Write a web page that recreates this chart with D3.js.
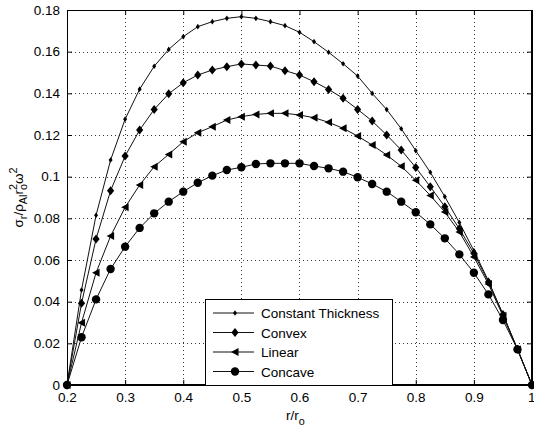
<!DOCTYPE html>
<html><head><meta charset="utf-8">
<script src="https://cdn.jsdelivr.net/npm/d3@7"></script>
<style>html,body{margin:0;padding:0;background:#fff;} svg{display:block;font-family:Arial,"Liberation Sans",sans-serif;}</style>
</head><body>
<script>
const xValues = [0.2,0.225,0.25,0.275,0.3,0.325,0.35,0.375,0.4,0.425,0.45,0.475,0.5,0.525,0.55,0.575,0.6,0.625,0.65,0.675,0.7,0.725,0.75,0.775,0.8,0.825,0.85,0.875,0.9,0.925,0.95,0.975,1.0];
const constantThickness = [0,0.0456,0.0815,0.108,0.1276,0.142,0.153,0.1611,0.1672,0.172,0.1744,0.176,0.1768,0.176,0.1744,0.1725,0.1693,0.1648,0.1597,0.1542,0.1483,0.14,0.1322,0.123,0.1125,0.1021,0.0904,0.078,0.0645,0.05,0.034,0.0172,0];
const convex = [0,0.0392,0.0701,0.0933,0.1099,0.1224,0.1323,0.1398,0.1451,0.1488,0.1512,0.1528,0.1541,0.1536,0.1531,0.1509,0.1488,0.1456,0.1419,0.1376,0.1323,0.1267,0.12,0.1128,0.1044,0.0952,0.0856,0.075,0.0632,0.0495,0.0338,0.0172,0];
const linear = [0,0.0299,0.0539,0.0715,0.0853,0.096,0.1048,0.1107,0.1168,0.1211,0.124,0.1272,0.1288,0.1299,0.1304,0.1304,0.1296,0.1283,0.1261,0.1232,0.1195,0.1152,0.1104,0.105,0.0983,0.091,0.083,0.0735,0.0615,0.0485,0.0332,0.0171,0];
const concave = [0,0.0229,0.0411,0.0557,0.0664,0.0754,0.0824,0.088,0.0928,0.0971,0.1005,0.1032,0.1045,0.1061,0.1064,0.1064,0.1064,0.1051,0.104,0.1024,0.0997,0.0965,0.0928,0.088,0.0829,0.0771,0.0704,0.0627,0.0539,0.0435,0.0312,0.0171,0];
const seriesNames = ["Constant Thickness","Convex","Linear","Concave"];
const markerTypes = ["dot","diamond","triangle","circle"];
const xTicks = [0.2,0.3,0.4,0.5,0.6,0.7,0.8,0.9,1];
const xTickLabels = ["0.2","0.3","0.4","0.5","0.6","0.7","0.8","0.9","1"];
const yTicks = [0,0.02,0.04,0.06,0.08,0.1,0.12,0.14,0.16,0.18];
const yTickLabels = ["0","0.02","0.04","0.06","0.08","0.1","0.12","0.14","0.16","0.18"];

const W = 534, H = 434;
const m = {left:67, top:10, right:2, bottom:49};
const svg = d3.select("body").append("svg").attr("width",W).attr("height",H);
const x = d3.scaleLinear().domain([0.2,1]).range([m.left, W-m.right]);
const y = d3.scaleLinear().domain([0,0.18]).range([H-m.bottom, m.top]);
const x0 = x.range()[0], x1 = x.range()[1], y0 = y.range()[0], y1 = y.range()[1];

svg.append("rect").attr("x",x0).attr("y",y1).attr("width",x1-x0).attr("height",y0-y1).attr("fill","#fff");

// grid
const grid = svg.append("g").attr("stroke","#333").attr("stroke-width",1).attr("stroke-dasharray","1,3");
grid.selectAll(".gx").data(xTicks.slice(1,-1)).enter().append("line")
  .attr("x1",d=>Math.round(x(d))+0.5).attr("x2",d=>Math.round(x(d))+0.5).attr("y1",y1).attr("y2",y0);
grid.selectAll(".gy").data(yTicks.slice(1,-1)).enter().append("line")
  .attr("y1",d=>Math.round(y(d))+0.5).attr("y2",d=>Math.round(y(d))+0.5).attr("x1",x0).attr("x2",x1);

// axes
const fs = 13.5;
const xAxisB = d3.axisBottom(x).tickValues(xTicks).tickSizeInner(-5).tickSizeOuter(0).tickPadding(7).tickFormat((d,i)=>xTickLabels[i]);
const gxB = svg.append("g").attr("transform",`translate(0,${y0})`).call(xAxisB);
const xAxisT = d3.axisTop(x).tickValues(xTicks).tickSizeInner(-5).tickSizeOuter(0).tickFormat("");
svg.append("g").attr("transform",`translate(0,${y1})`).call(xAxisT);
const yAxisL = d3.axisLeft(y).tickValues(yTicks).tickSizeInner(-5).tickSizeOuter(0).tickPadding(7).tickFormat((d,i)=>yTickLabels[i]);
svg.append("g").attr("transform",`translate(${x0},0)`).call(yAxisL);
const yAxisR = d3.axisRight(y).tickValues(yTicks).tickSizeInner(-5).tickSizeOuter(0).tickFormat("");
svg.append("g").attr("transform",`translate(${x1},0)`).call(yAxisR);
svg.selectAll(".tick text").attr("font-size",fs).attr("font-family","Arial, 'Liberation Sans', sans-serif").attr("fill","#000");
// keep the last x tick label inside the window
gxB.selectAll(".tick text").filter((d,i)=>i===xTicks.length-1).attr("text-anchor","end").attr("dx",3);
svg.selectAll(".domain").attr("stroke","#000");
svg.selectAll(".tick line").attr("stroke","#000");
svg.append("rect").attr("x",x0+0.5).attr("y",y1+0.5).attr("width",x1-x0-1).attr("height",y0-y1-1).attr("fill","none").attr("stroke","#000");

// marker drawing
function drawMarker(g, type, cx, cy){
  if(type==="dot"){
    g.append("path").attr("d",`M${cx},${cy-2.8}L${cx+2},${cy}L${cx},${cy+2.8}L${cx-2},${cy}Z`).attr("fill","#000");
  } else if(type==="diamond"){
    g.append("path").attr("d",`M${cx},${cy-4.5}L${cx+3.6},${cy}L${cx},${cy+4.5}L${cx-3.6},${cy}Z`).attr("fill","#000");
  } else if(type==="triangle"){
    g.append("path").attr("d",`M${cx-4},${cy}L${cx+3.5},${cy-4}L${cx+3.5},${cy+4}Z`).attr("fill","#000");
  } else {
    g.append("circle").attr("cx",cx).attr("cy",cy).attr("r",4.2).attr("fill","#000");
  }
}

const allSeries = [constantThickness, convex, linear, concave];
const line = d3.line().x(d=>x(d[0])).y(d=>y(d[1]));
allSeries.forEach((vals,si)=>{
  const pts = xValues.map((xv,i)=>[xv,vals[i]]);
  const g = svg.append("g");
  g.append("path").datum(pts).attr("d",line).attr("fill","none").attr("stroke","#111").attr("stroke-width",1);
  pts.forEach(p=>drawMarker(g, markerTypes[si], x(p[0]), y(p[1])));
});

// legend
const lg = svg.append("g");
const lx = 205, ly = 299, lw = 187, lh = 86;
lg.append("rect").attr("x",lx+0.5).attr("y",ly+0.5).attr("width",lw).attr("height",lh).attr("fill","#fff").attr("stroke","#000");
seriesNames.forEach((name,i)=>{
  const yy = 313 + i*19.5;
  lg.append("line").attr("x1",213).attr("x2",254).attr("y1",yy).attr("y2",yy).attr("stroke","#111");
  drawMarker(lg, markerTypes[i], 235, yy);
  lg.append("text").attr("x",261).attr("y",yy+5).attr("font-size",fs).attr("fill","#000").text(name);
});

// axis labels
const xl = svg.append("text").attr("x",x((0.2+1)/2)-4).attr("y",420).attr("font-size",fs).attr("text-anchor","middle").attr("fill","#000");
xl.append("tspan").text("r/r");
xl.append("tspan").attr("dy",5).attr("font-size",fs*0.8).text("o");

const yl = svg.append("text").attr("transform",`translate(23,${(y0+y1)/2}) rotate(-90)`).attr("font-size",fs).attr("text-anchor","middle").attr("fill","#000");
yl.append("tspan").text("σ");
yl.append("tspan").attr("dy",4).attr("font-size",fs*0.8).text("r");
yl.append("tspan").attr("dy",-4).text("/ρ");
yl.append("tspan").attr("dy",4).attr("font-size",fs*0.8).text("Al");
yl.append("tspan").attr("dy",-4).text("r");
yl.append("tspan").attr("dy",-6).attr("font-size",fs*0.8).text("2");
yl.append("tspan").attr("dx",-6).attr("dy",10).attr("font-size",fs*0.8).text("o");
yl.append("tspan").attr("dy",-4).text("ω");
yl.append("tspan").attr("dy",-6).attr("font-size",fs*0.8).text("2");
</script>
</body></html>
